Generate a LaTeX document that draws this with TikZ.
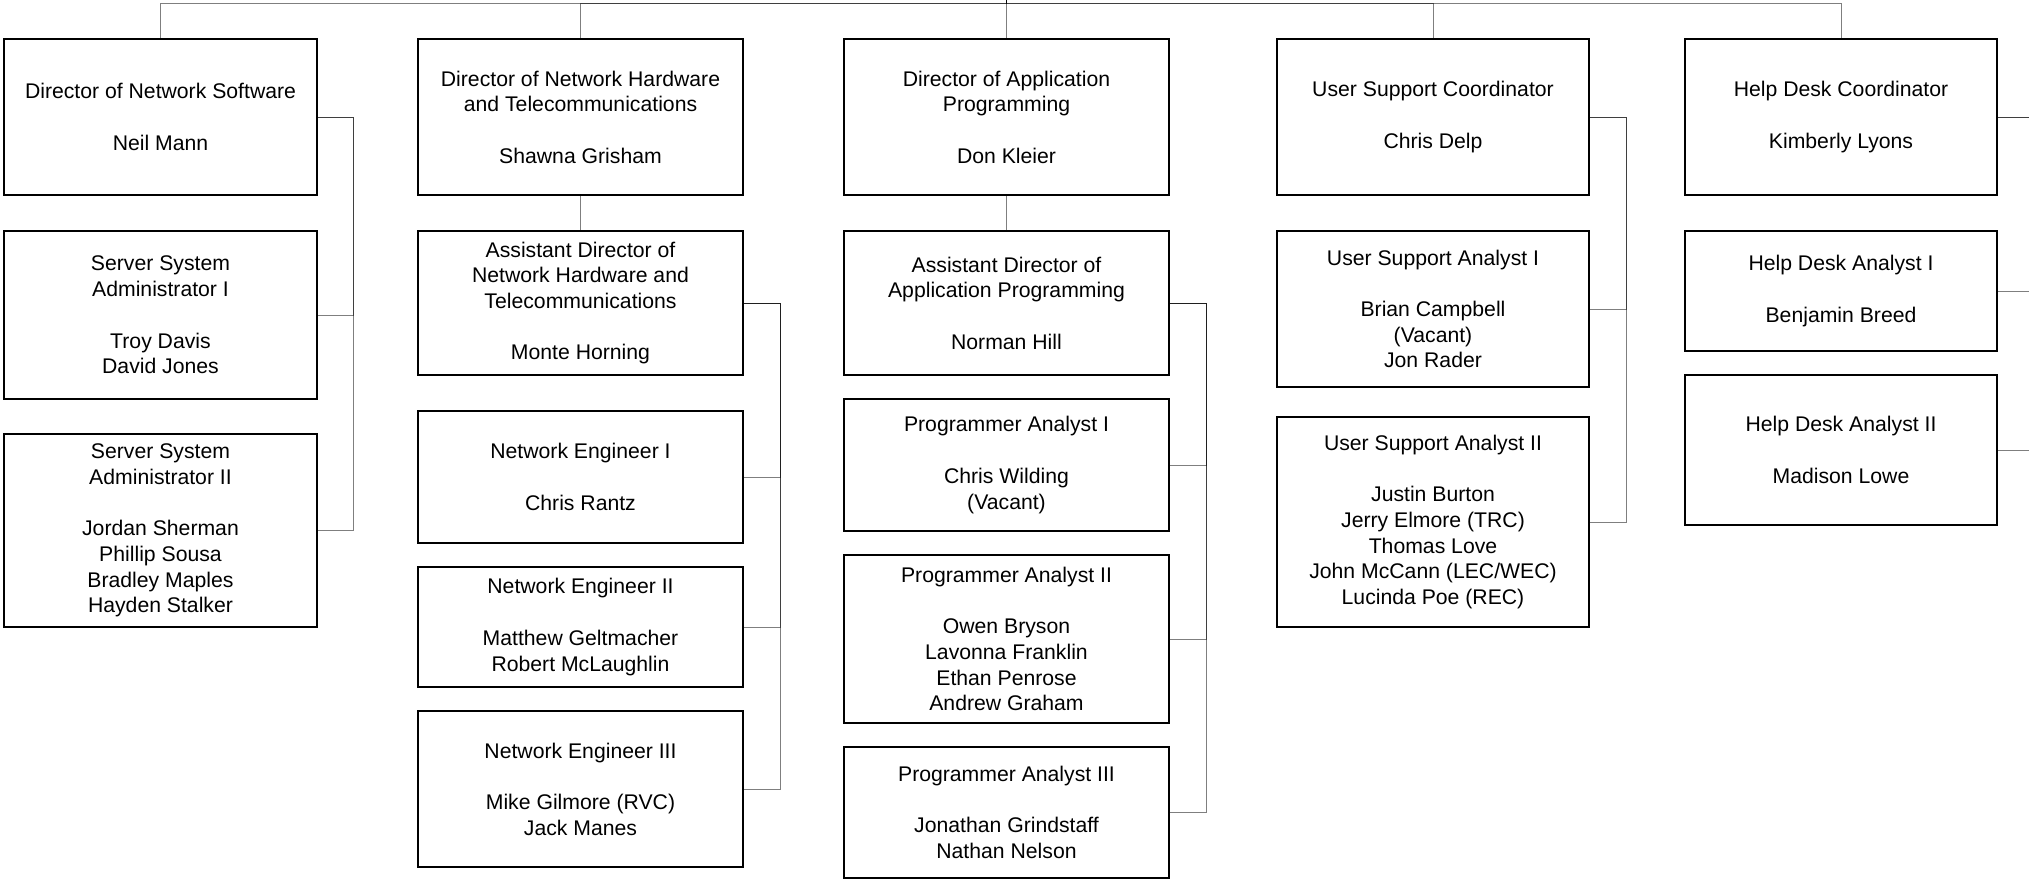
\documentclass[tikz,border=0pt]{standalone}
\usepackage{fontspec}
\setmainfont{Liberation Sans}
\usepackage{tikz}

\begin{document}
\begin{tikzpicture}[x=0.5pt,y=-0.5pt,
	job/.style={draw, line width=1pt, inner sep=0pt, align=center,
		font=\fontsize{10.6}{12.85}\selectfont},
	link/.style={draw=black, draw opacity=0.5, line width=0.5pt}]

		\useasboundingbox (0,0) rectangle (2029,879);

		% network software
		\node[job, minimum width=156.5pt, minimum height=78pt] (dns) at (160.5,117) {Director of Network Software\\[12.85pt]Neil Mann};
		\node[job, minimum width=156.5pt, minimum height=84pt] (ssa1) at (160.5,315) {Server System\\Administrator I\\[12.85pt]Troy Davis\\David Jones};
		\node[job, minimum width=156.5pt, minimum height=96.5pt] (ssa2) at (160.5,530.5) {Server System\\Administrator II\\[12.85pt]Jordan Sherman\\Phillip Sousa\\Bradley Maples\\Hayden Stalker};

		% network hardware
		\node[job, minimum width=162.5pt, minimum height=78pt] (dnh) at (580.5,117) {Director of Network Hardware\\and Telecommunications\\[12.85pt]Shawna Grisham};
		\node[job, minimum width=162.5pt, minimum height=72pt] (adnh) at (580.5,303) {Assistant Director of\\Network Hardware and\\Telecommunications\\[12.85pt]Monte Horning};
		\node[job, minimum width=162.5pt, minimum height=66pt] (ne1) at (580.5,477) {Network Engineer I\\[12.85pt]Chris Rantz};
		\node[job, minimum width=162.5pt, minimum height=60pt] (ne2) at (580.5,627) {Network Engineer II\\[12.85pt]Matthew Geltmacher\\Robert McLaughlin};
		\node[job, minimum width=162.5pt, minimum height=78pt] (ne3) at (580.5,789) {Network Engineer III\\[12.85pt]Mike Gilmore (RVC)\\Jack Manes};

		% application programming
		\node[job, minimum width=162.5pt, minimum height=78pt] (dap) at (1006.5,117) {Director of Application\\Programming\\[12.85pt]Don Kleier};
		\node[job, minimum width=162.5pt, minimum height=72pt] (adap) at (1006.5,303) {Assistant Director of\\Application Programming\\[12.85pt]Norman Hill};
		\node[job, minimum width=162.5pt, minimum height=66pt] (pa1) at (1006.5,465) {Programmer Analyst I\\[12.85pt]Chris Wilding\\(Vacant)};
		\node[job, minimum width=162.5pt, minimum height=84pt] (pa2) at (1006.5,639) {Programmer Analyst II\\[12.85pt]Owen Bryson\\Lavonna Franklin\\Ethan Penrose\\Andrew Graham};
		\node[job, minimum width=162.5pt, minimum height=65.5pt] (pa3) at (1006.5,812.5) {Programmer Analyst III\\[12.85pt]Jonathan Grindstaff\\Nathan Nelson};

		% user support
		\node[job, minimum width=156pt, minimum height=78pt] (usc) at (1433,117) {User Support Coordinator\\[12.85pt]Chris Delp};
		\node[job, minimum width=156pt, minimum height=78pt] (usa1) at (1433,309) {User Support Analyst I\\[12.85pt]Brian Campbell\\(Vacant)\\Jon Rader};
		\node[job, minimum width=156pt, minimum height=105pt] (usa2) at (1433,522) {User Support Analyst II\\[12.85pt]Justin Burton\\Jerry Elmore (TRC)\\Thomas Love\\John McCann (LEC/WEC)\\Lucinda Poe (REC)};

		% help desk
		\node[job, minimum width=156pt, minimum height=78pt] (hdc) at (1841,117) {Help Desk Coordinator\\[12.85pt]Kimberly Lyons};
		\node[job, minimum width=156pt, minimum height=60pt] (hda1) at (1841,291) {Help Desk Analyst I\\[12.85pt]Benjamin Breed};
		\node[job, minimum width=156pt, minimum height=75pt] (hda2) at (1841,450) {Help Desk Analyst II\\[12.85pt]Madison Lowe};

		% top bus
		\coordinate (top) at (1006.5,0);
		\coordinate (bus) at (1006.5,3);
		\draw[link] (top) -- (bus) -| (dns.north);
		\draw[link] (top) -- (bus) -| (dnh.north);
		\draw[link] (top) -- (dap.north);
		\draw[link] (top) -- (bus) -| (usc.north);
		\draw[link] (top) -- (bus) -| (hdc.north);

		\draw[link] (dns.east) -- ++(35,0) |- (ssa1.east);
		\draw[link] (dns.east) -- ++(35,0) |- (ssa2.east);

		\draw[link] (dnh.south) -- (adnh.north);
		\draw[link] (adnh.east) -- ++(36,0) |- (ne1.east);
		\draw[link] (adnh.east) -- ++(36,0) |- (ne2.east);
		\draw[link] (adnh.east) -- ++(36,0) |- (ne3.east);

		\draw[link] (dap.south) -- (adap.north);
		\draw[link] (adap.east) -- ++(36,0) |- (pa1.east);
		\draw[link] (adap.east) -- ++(36,0) |- (pa2.east);
		\draw[link] (adap.east) -- ++(36,0) |- (pa3.east);

		\draw[link] (usc.east) -- ++(36,0) |- (usa1.east);
		\draw[link] (usc.east) -- ++(36,0) |- (usa2.east);

		\draw[link] (hdc.east) -- ++(36,0) |- (hda1.east);
		\draw[link] (hdc.east) -- ++(36,0) |- (hda2.east);

	\end{tikzpicture}
\end{document}
